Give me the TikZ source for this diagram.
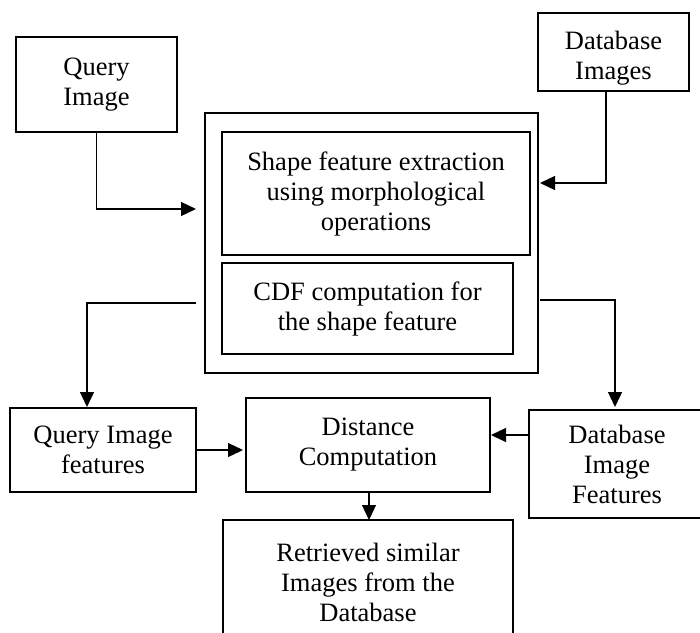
\documentclass[tikz,border=0pt]{standalone}
\usepackage{fontspec}
\setmainfont{Liberation Serif}
\usetikzlibrary{arrows.meta}
\begin{document}
\begin{tikzpicture}[x=1pt,y=-1pt,
  box/.style={draw, line width=2.2pt, inner sep=0pt, outer sep=0pt, align=center,
    font=\fontsize{26.5}{30}\selectfont},
  txt/.style={inner sep=0pt, align=center, font=\fontsize{26.5}{30}\selectfont},
  arr/.style={line width=1.3pt, -{Triangle[length=15pt,width=14pt]}}]
\useasboundingbox (0,0) rectangle (700,632);
\clip (0,0) rectangle (700,632);
\fill[white] (0,0) rectangle (700,632);
% boxes
\node[box, minimum width=161pt, minimum height=95pt] (q) at (96.5,84.5) {Query\\Image};
\node[box, minimum width=151pt, minimum height=78pt] (dbi) at (613.5,52) {};
\node[txt] (dbit) at ([yshift=-6pt]dbi.center) {Database\\Images};
\node[box, minimum width=333pt, minimum height=260pt] (outer) at (371.5,243) {};
\node[box, minimum width=308pt, minimum height=123pt] (shape) at (376,193.5) {Shape feature extraction\\using morphological\\operations};
\node[box, minimum width=291pt, minimum height=91pt] (cdf) at (367.5,308.5) {CDF computation for\\the shape feature};
\node[box, minimum width=186pt, minimum height=84pt] (qf) at (103,450) {Query Image\\features};
\node[box, minimum width=244pt, minimum height=94pt] (dist) at (368,445) {Distance\\Computation};
\node[box, minimum width=176pt, minimum height=108pt] (dbf) at (617,464) {Database\\Image\\Features};
\node[box, minimum width=290pt, minimum height=124pt] (ret) at (368,582) {Retrieved similar\\Images from the\\Database};
% connector points
\coordinate (qa) at (196,209);
\coordinate (dba) at (540,183);
\coordinate (os1) at (196,303);
\coordinate (os2) at (540,300);
% connectors
\draw[arr] (q.south) |- (qa);
\draw[arr] ([xshift=-7.5pt]dbi.south) |- (dba);
\draw[arr] (os1) -| ([xshift=-16pt,yshift=1pt]qf.north);
\draw[arr] (os2) -| ([xshift=-2pt,yshift=3pt]dbf.north);
\draw[arr] (qf.east) -- ([xshift=-3pt]qf.east -| dist.west);
\draw[arr] ([yshift=29pt]dbf.west) -- ([xshift=1pt,yshift=29pt]dbf.west -| dist.east);
\draw[arr] ([xshift=1pt]dist.south) -- ([xshift=1pt]ret.north);
\end{tikzpicture}
\end{document}
